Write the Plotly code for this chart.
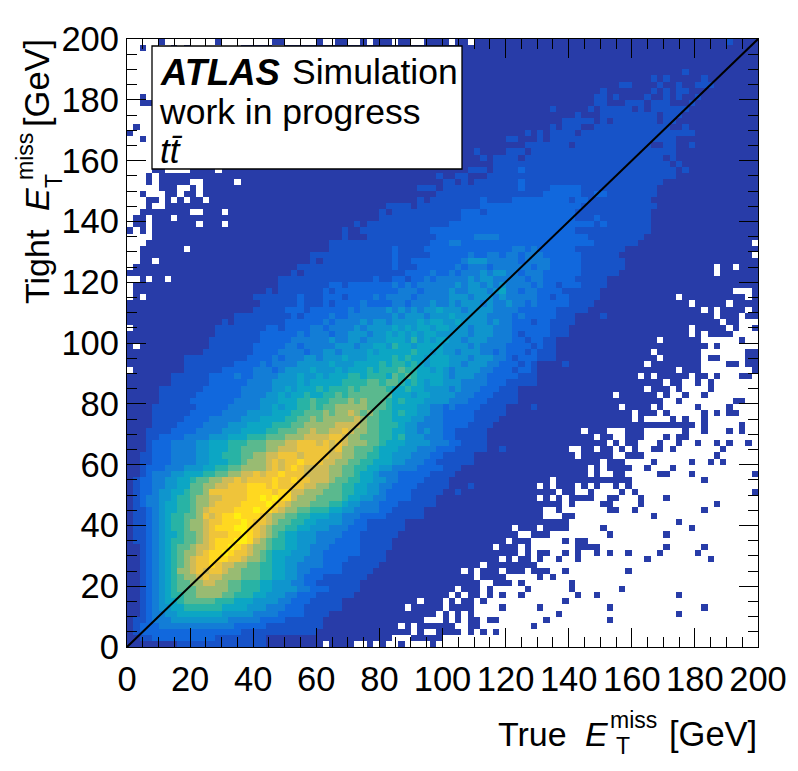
import numpy as np
import plotly.graph_objects as go

# bin contents read off the picture as colour levels, top row (y=199) first
# one char per 2 GeV bin, '.' = empty bin, 0-9 a b c = colour level
hist_rows = [
".....0.... ....0..... ...00..... 0..00..0.0 00.00..000 0.00.00000 0000000000 0000000000 0000000000 0000010000",
"..0....0.0 ........00 000..00000 0000000000 0000000000 0000000000 0000000000 0000000000 0000000000 0000000000",
"....000000 0000000000 0000000000 0000000000 0000000000 0000000000 0000000000 0000000000 0000000000 0000000000",
"....000000 0000000000 0000000000 0000000000 0000000000 0000000000 0000000000 0000000000 0000000000 0000000000",
"....000000 0000000000 0000000000 0000000000 0000000000 0000000000 0000000000 0000000000 0000000000 0000000000",
"....000000 0000000000 0000000000 0000000000 0000000000 0000000000 0000000000 0000000000 0000000010 0000000000",
"....000000 0000000000 0000000000 0000000000 0000000000 0000000000 0000000000 0000000000 0001010000 0100000000",
"....000000 0000000000 0000000000 0000000000 0000000000 0000000000 0000000000 0000000011 0000100100 1110000000",
"....000000 0000000000 0000000000 0000000000 0000000000 0000000000 0000000000 0000010000 0001010110 0000000000",
"..0.000000 0000000000 0000000000 0000000000 0000000000 0000000000 0000000000 0000110100 0010010100 1000000000",
"..00000000 0000000000 0000000000 0000000000 0000000000 0000000000 0000000000 0000110001 1101110001 0000000000",
"....000000 0000000000 0000000000 0000000000 0000000000 0000000000 0000000100 0001011111 0101111110 0000000000",
"....000000 0000000000 0000000000 0000000000 0000000000 0000000000 0000000000 0100011111 1111011100 0000000000",
"....000000 0000000000 0000000000 0000000000 0000000000 0000000000 0000000001 1111010111 1111011000 0000000000",
".0..000000 0000000000 0000000000 0000000000 0000000000 0000000000 0000000101 1100111111 1111110010 0000000000",
"0...000000 0000000000 0000000000 0000000000 0000000000 0000000000 0001010111 1011111111 1111111111 0000000000",
"..0.000000 0000000000 0000000000 0000000000 0000000000 0000000000 1100010111 1111111111 1111111000 0000000000",
"....000000 0000000000 0000000000 0000000000 0000000000 0000000000 0001111111 0111111111 1110011001 0000000000",
"....000000 0000000000 0000000000 0000000000 0000000000 0000010000 1110111111 1111111111 1111111000 0000000000",
"....000000 0000000000 0000000000 0000000000 0000000000 0000001011 1101111111 1111111111 1111101000 0000000000",
"....000000 0000000000 0000000000 0000000000 0000000000 0000000011 1111111111 1111111111 1111110100 0000000000",
"....00.... 0000.00000 0000000000 0000000000 0000000000 0000111011 1121111111 1111111111 1111111010 0000000000",
"...0.00000 0000000000 0000000000 0000000000 0000000001 0011000111 1111111111 1111111111 1111111000 0000000000",
"...0.00000 ..00000.00 0000000000 0000000000 0000000000 1101011111 1121111111 1111111111 1111100000 0000000000",
".....000.. 0.00000000 0000000000 0000000000 0000001110 1111111111 1121111222 2211111111 1111000000 0000000000",
"..0...00.0 0.00000000 0000000000 0000000000 0000000001 1111111111 1111112222 2211221111 1111000000 0000000000",
"...00.0.0. 00.0000000 0000000000 0000000000 0000001011 1111112111 1222222222 1221111111 1110000000 0000000000",
"...0..0000 0000000000 0000000000 0000000000 0111101111 1111112222 2222222222 2211111111 1111000000 0000000000",
"..00000000 ..000.0000 0000000000 0000000000 1011111111 1112221222 2222222222 2111111111 1110000000 0000000000",
".00.000.00 0000000000 0000000000 0000000000 1111111111 1112222222 2222222222 2111211111 1110000000 0000000000",
".00.000000 0.000.0000 0000000000 0000001011 1111111111 1222222222 2222222222 2222121111 1110000000 0000000000",
"0.0.000000 0000000000 0000000000 0000100111 1111111122 2222222222 2222222222 2111111111 1110000000 0000000000",
"....000000 0000000000 0000000000 0000100011 1111111112 2222233332 2222222222 2221111111 1100000000 0000000000",
"...0000000 0000000000 0000000000 0011111111 1111111122 2332222222 2222222222 2222111111 1000000000 000000000.",
"..0000000. 0000000000 0000000000 0011111111 1121111222 2222222222 2332322222 2111111110 0000000000 0000000000",
"..00000000 0000000000 0000000001 1111111111 1121111122 2222322332 3323332222 2211111100 0000000000 000000000.",
"..00.00000 0000000000 0000000001 0111111111 1121122222 2223444333 3323333222 2211111110 0000000000 0000000000",
".000000000 0000000000 0000000111 1111111111 1121112222 2232333233 3333233222 2211111110 0000000000 000.00.000",
"0000000000 0000000000 0000001011 1111111111 1111222232 2323334344 3323332222 2211111100 0000000000 000.000000",
"..0.00.000 0000000000 0000111111 1111111112 1122122323 3333434433 3332332222 2111110000 0000000000 0000000000",
".000000000 0000000000 0000111111 1122122222 2232323333 3343443434 3333232212 2211110000 0000000000 0000000000",
".000000000 0000000000 0010111111 1212222222 2223332333 3433444345 3323322221 1111100000 0000000000 000000...0",
".0.0000000 0000000000 1111111211 1222122223 2333323333 3444344434 3333322122 1111100000 0000000.00 00000000.0",
"0000000000 0000000000 0111111211 1212222322 2233233343 3434443433 4332322222 1111000000 000000000. 00000.0000",
"0000000000 0000000000 1111122212 2222232333 3434343445 4443444433 3322222211 1110000000 0000000000 0.0.0000.0",
"0000000000 0000000111 1111112122 2232233333 3343444344 4544444333 3232222211 1000010000 0000000000 000.000.00",
"0000000000 0000010111 1111122222 2323333434 4344445455 4454444343 3222122111 1000000000 0000000000 0000.00...",
".000000000 0000111111 1122122223 3233334344 4454545545 5444344433 3222222111 0000000000 000000000. 00000.0..0",
"0000000000 0000111111 1222222323 3323344434 4545454554 4444344433 3212222111 0000000000 000000000. 0.0000....",
"0000000000 0001111111 1222223333 3343344344 4555464545 5443444333 3221221100 0000000000 0000.00000 0......0..",
"0.00000000 0001111111 2222233233 3334443445 5465545555 4444343333 2222121100 0000000000 0000000000 00.0......",
"0000000000 0011111111 2222333323 3443444454 5555565545 4434443323 2221211100 0000000000 000.000000 0.......00",
"0000000001 1111111112 2223233344 3444544455 5565655455 5444344433 2122211100 0000000000 0000.00000 0.00....00",
"0000000001 1111111222 2323333444 4454445555 6566565455 5443444332 2212100001 0000000000 00.0000000 0....00.00",
".000000001 1111122222 3332344445 4445455565 6667665545 4344443322 2122100000 0000000000 0000000.00 0........0",
"0000000111 1112222322 3333444544 5455566566 6576765555 4344433222 2211100000 0000000000 0.0.00000. 00.0...00.",
"0000000111 1112222223 3334444545 5555666677 6776565455 4443333222 1111100000 0000000000 00000.00.. 0.0.......",
"0000011111 1122222233 3334454555 6566676777 7655655444 4343332221 1100000000 0000000000 00.000.0.. ..0.......",
"0000011111 1222222233 3344545565 5667677777 7755545544 4433322211 1100000000 0000000.00 0000.0..0. .0........",
"0000011111 2222222333 3444555667 6677787877 7656555444 4333222111 1100000000 0000000000 00000..0.. ......00..",
"0000111111 1222223333 3445455667 6778888877 7655554433 2322221111 0000100000 00000000.0 000.0..... 0....0....",
"0000111111 2222233334 4445556677 7878898787 6656554433 2222211111 0000000000 0000000000 .000.0.... .0.0.00...",
"0000111112 2223333344 4555566778 7888889877 6655544333 2222211110 0000000000 0000000000 .0....0.0. .0........",
"0000111122 2233334445 5556667788 8889999877 6665443333 2222111100 0000000000 0000000000 0000000000 .0.....0..",
"0001111222 2333344455 5566777889 8899a98877 6655443433 2211111000 0000000000 00.000...0 00......0. .0...0.0..",
"0001122223 3334445556 6677788899 99aa988777 6656444333 2211111000 0000000000 0000.00..0 00...0.00. ..........",
"0001222333 3445556667 7788899aaa 9a9a988877 6555444433 3221111000 0000000000 000000.0.0 0...0..0.. 0..0.0..0.",
"0001222333 3445556677 7788999aaa aa9a887776 5554443332 2211111001 0000000000 ..00.00.0. 0..00.0... ....0.....",
"0011222333 3445566677 8899aaa9aa aa99887766 5544433322 1111100000 0000000000 0.00000..0 00........ ...0......",
"0011222333 3445556678 889a9aabaa a998877665 5544333221 1111100000 0000000000 00000.000. ...0.....0 ..0.0.....",
"0012223334 4455667788 889a9aba99 9988776655 4433332222 1110000000 0000000000 000.0.0000 ..0...0... ..........",
"0012333445 5566778899 a9aabaaa99 9988776554 3332222211 1100000000 0000000000 000.0..00. ....00...0 .........0",
"0122334455 6778899a9a aaabaabaa9 9987766554 4332222111 1000000000 0000000.00 0000000000 .......... .0........",
"0122334455 778899aaab bbabaaaa99 8877665544 3322221111 1000100000 00000.0.00 0.0.0..0.0 .......... ..........",
"0122344556 778aaaaaab bbbabb9988 8777665544 3222211111 0010000000 00000000.0 0..0....0. 0......... .........0",
"0123344566 78899aaaab bcbcbb9888 7777655443 3222211110 0000000000 00000.0.0. 0000..00.. .0...0.... ..........",
"0123345566 7889aaaabb bbcba98887 7766544333 2221111110 0000000000 000000000. 0....00... .0........ ...0......",
"0112345566 789aaaabbb cbba988776 6655443333 2211111000 0000000000 000000..0. ......00.. 0......... .0........",
"0112345667 78a9abbcbb ba98877665 5544333222 2111111000 0000000000 000000...0 0......... ...0...... ..........",
"0112345667 889aabbbcb aa98776655 4444332211 1111000000 0000000000 0000000000 .......... .......0.. ..........",
"0112345667 889abbbccb a987766554 4433322211 1111000000 0000000000 0.000.0000 .....0.... .........0 ..........",
"0112345567 789aaabbcb a987655444 3333222111 1110000000 0000000000 00..000... ......0... .....0.... ..........",
"0112345667 789abbbccb 9876655444 3332222111 1100000000 0000000000 .000.....0 .00....... .......... ..........",
"0012345677 899abbcba9 8876655443 3322222111 1100000000 00000000.0 00.0...... .0000..... .....0.... .0........",
"0012345678 89abbcbaa9 8765554443 3222222111 1000000000 0000000000 00.0.00..0 .0..0.0..0 ....0..... 0.........",
"0012345678 9aabbbaa98 8765544433 3222211111 1000000000 000000000. 0.00.0..0. .0........ ..0....... ..0.......",
"0012345678 9aaba99887 7665544333 3222111111 0000000000 000000.000 00000..... .......... .......... ..........",
"0012345688 9a9aa98877 7665544332 2222111110 0000000000 000.0.000. 000.000..0 .........0 .......... ..........",
"0012345678 89a9988877 7665544322 2111111100 0000000000 00000.0000 .....0.0.. .......... .......... ..........",
"0012345677 8899887766 6554443322 1111111000 0000000000 000000..00 0.0....... 0......... .......... ..........",
"0012345677 7888887766 6554444332 2211111000 0000000000 00.000.0.. ...0...... 0.......0. .......... ..........",
"0012345667 7888877666 5544433222 1111110000 0000000000 0.0.00.0.0 ..0....... .0..0..... .......0.. ..........",
"0012345567 7777666555 4444332221 1111000000 000000.000 .0.00.0... .........0 .......... .......... ..........",
"0012344556 6666655554 4433322211 1111000000 0000.00000 .0000....0 .....0.... ......0... .......... .0........",
"0012334455 5555544444 3333222211 1100000000 000000000. 0.0.0..... ........0. .......... .......0.. ..........",
"0112333444 4444443333 3222211111 1000000000 0000000... 0.0.00.00. ......0... ......0... .......... ..........",
"0122233333 3333333222 2211111111 1000000000 000.0.0000 00..00.... ....0..... .......... .......... ..........",
"0122222222 2222222211 1111111111 0000000000 00000.0..0 000.0.0.0. .......... .......... .......... ..........",
"0011222222 2222111111 1100000000 0000000000 00...00000 .......... .......... .......... .......... ..........",
"0000000011 1111111111 1100000000 0.0000..0. 0..0....0. .......... .......... .......... .......... ..........",
]
level_colors = ["#283ca8", "#1753c8", "#1168dd", "#137dd6", "#0f95cd", "#0ca6c4", "#28b3a5",
                "#5ab98e", "#99bb72", "#cfbb58", "#efc43a", "#ffd820", "#fff010"]
level_chars = "0123456789abc"
diag_x = [0, 200]
diag_y = [0, 200]
bin_width = 2

FONT = "Liberation Sans"
W, H = 798, 771
L, R, T, B = 127, 758, 39, 647


def px(x):
    return (x - L) / (R - L)


def py(y):
    return (B - y) / (B - T)


z = []
for row in hist_rows:
    row = row.replace(" ", "").ljust(100, ".")[:100]
    z.append([None if ch == "." else level_chars.index(ch) for ch in row])
z = z[::-1]
centers = np.arange(bin_width / 2, 200, bin_width)

n = len(level_colors)
colorscale = []
for i, c in enumerate(level_colors):
    colorscale.append([i / n, c])
    colorscale.append([(i + 1) / n, c])

fig = go.Figure()
fig.add_trace(go.Heatmap(x=centers, y=centers, z=z, zmin=-0.5, zmax=n - 0.5,
                         colorscale=colorscale, showscale=False, hoverongaps=False))
fig.add_trace(go.Scatter(x=diag_x, y=diag_y, mode="lines", line=dict(color="black", width=2),
                         showlegend=False))


def axis_style(standoff, size):
    return dict(range=[0, 200], tick0=0, dtick=20, ticks="inside", ticklen=19, tickwidth=1.3,
                tickcolor="black", minor=dict(dtick=5, ticks="inside", ticklen=10, tickwidth=1.3, tickcolor="black"),
                showgrid=False, zeroline=False, showline=True, linecolor="black", linewidth=1.3,
                mirror="allticks", tickangle=0, ticklabelstandoff=standoff,
                tickfont=dict(family=FONT, size=size, color="black"))


fig.update_layout(
    width=W, height=H, autosize=False,
    margin=dict(l=L, r=W - R, t=T, b=H - B, pad=0),
    paper_bgcolor="white", plot_bgcolor="white", showlegend=False,
    xaxis=axis_style(1, 34.5), yaxis=axis_style(0, 34.5),
)

# legend box
fig.add_shape(type="rect", xref="paper", yref="paper", x0=px(152), x1=px(462), y0=py(169), y1=py(46),
              fillcolor="white", line=dict(color="black", width=1.3), layer="above")


def label(text, x, y, size=34, angle=0, anchor="left"):
    fig.add_annotation(text=text, xref="paper", yref="paper", x=px(x), y=py(y), showarrow=False,
                       xanchor=anchor, yanchor="middle", textangle=angle,
                       font=dict(family=FONT, size=size, color="black"))


label("<b><i>ATLAS</i></b>", 158, 72, size=36.5)
label("Simulation", 290, 72, size=35.5)
label("work in progress", 157, 112, size=35.5)
label("<i>tt\u0304</i>", 158, 150, size=35)

# x title, pieces placed by hand since plotly cannot stack sub and superscript
label("True", 496, 734)
label("<i>E</i>", 583, 734)
label("miss", 608, 720, size=23)
label("T", 614, 746, size=23)
label("[GeV]", 667, 734, size=34.5)

# y title
label("Tight", 37, 267, angle=-90, anchor="center")
label("<i>E</i>", 37, 200, angle=-90, anchor="center")
label("miss", 25, 156, size=23, angle=-90, anchor="center")
label("T", 54, 181, size=23, angle=-90, anchor="center")
label("[GeV]", 37, 83, size=34.5, angle=-90, anchor="center")

# the page body has a default 8px margin
fig.write_html("out.html", config=dict(displayModeBar=False),
               post_script="document.body.style.margin='0';")
